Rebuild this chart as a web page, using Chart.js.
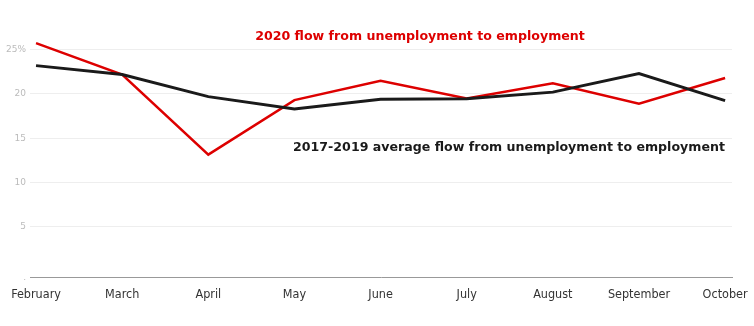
<!DOCTYPE html>
<html>
<head>
<meta charset="utf-8">
<script src="https://cdn.jsdelivr.net/npm/chart.js@4"></script>
<style>
  html, body { margin: 0; padding: 0; background: #ffffff; }
  #wrap { position: relative; width: 754px; height: 326px; }
</style>
</head>
<body>
<div id="wrap"><canvas id="flowChart"></canvas></div>
<script>
// Monthly flow from unemployment to employment (%).
const months = [
  'February','March','April','May','June','July','August','September','October'
];

const flow2020 = [25.75, 22.2, 13.15, 19.3, 21.5, 19.5, 21.2, 18.9, 21.8];

const flowAvg = [23.2, 22.2, 19.7, 18.3, 19.4, 19.45, 20.2, 22.3, 19.25];

// y ticks and their printed labels (the bottom one is just a dot in the original)
const yTickValues = [5, 10, 15, 20, 25];
const yTickLabels = ['5', '10', '15', '20', '25%'];
const yBottomLabel = '.';

const seriesNames = [
  '2020 flow from unemployment to employment',
  '2017-2019 average flow from unemployment to employment'
];

// Draws the two series names straight onto the chart, like the original
const inlineLabels = {
  id: 'inlineLabels',
  afterDraw(chart) {
    const c = chart.ctx;
    c.save();
    c.font = 'bold 12.6px "DejaVu Sans", Verdana, sans-serif';
    c.textAlign = 'center';
    c.textBaseline = 'middle';
    c.fillStyle = '#dd0000';
    c.fillText(seriesNames[0], 420, 37);
    c.fillStyle = '#1a1a1a';
    c.fillText(seriesNames[1], 509, 148);
    c.restore();
  }
};

const ctx = document.getElementById('flowChart').getContext('2d');

new Chart(ctx, {
  type: 'line',
  data: {
    datasets: [
      {
        label: seriesNames[1],
        data: flowAvg.map((v, i) => ({ x: i, y: v })),
        borderColor: '#1a1a1a',
        borderWidth: 2.9,
        pointRadius: 0,
        tension: 0
      },
      {
        label: seriesNames[0],
        data: flow2020.map((v, i) => ({ x: i, y: v })),
        borderColor: '#dd0000',
        borderWidth: 2.5,
        pointRadius: 0,
        tension: 0
      }
    ]
  },
  options: {
    responsive: true,
    maintainAspectRatio: false,
    animation: false,
    layout: { padding: { top: 32, right: 22, left: 0, bottom: 0 } },
    plugins: {
      legend: { display: false },
      tooltip: { enabled: false }
    },
    scales: {
      x: {
        type: 'linear',
        min: -0.07,
        max: 8.08,
        grid: { display: false, drawTicks: false },
        border: { color: '#999999', width: 1 },
        afterBuildTicks: (scale) => { scale.ticks = months.map((m, i) => ({ value: i })); },
        afterFit: (scale) => {
          scale.height = 48.5;
          // let the end labels hang past the plot, as in the original
          scale.paddingLeft = 0;
          scale.paddingRight = 0;
        },
        ticks: {
          autoSkip: false,
          maxRotation: 0,
          padding: 10,
          color: '#333333',
          font: { family: '"DejaVu Sans Condensed", "DejaVu Sans", sans-serif', size: 12.5 },
          callback: (v) => months[v]
        }
      },
      y: {
        min: -0.74,          // the x axis line sits a little below zero in the original
        max: 27,
        grid: { color: '#eeeeee', drawTicks: false },
        border: { display: false },
        afterBuildTicks: (scale) => {
          scale.ticks = [{ value: scale.min }].concat(yTickValues.map(v => ({ value: v })));
        },
        afterFit: (scale) => { scale.width = 30; },
        ticks: {
          padding: 4,
          color: '#bbbbbb',
          font: { family: '"DejaVu Sans", sans-serif', size: 9 },
          callback: (v) => {
            const k = yTickValues.indexOf(v);
            return k >= 0 ? yTickLabels[k] : yBottomLabel;
          }
        }
      }
    }
  },
  plugins: [inlineLabels]
});
</script>
</body>
</html>
